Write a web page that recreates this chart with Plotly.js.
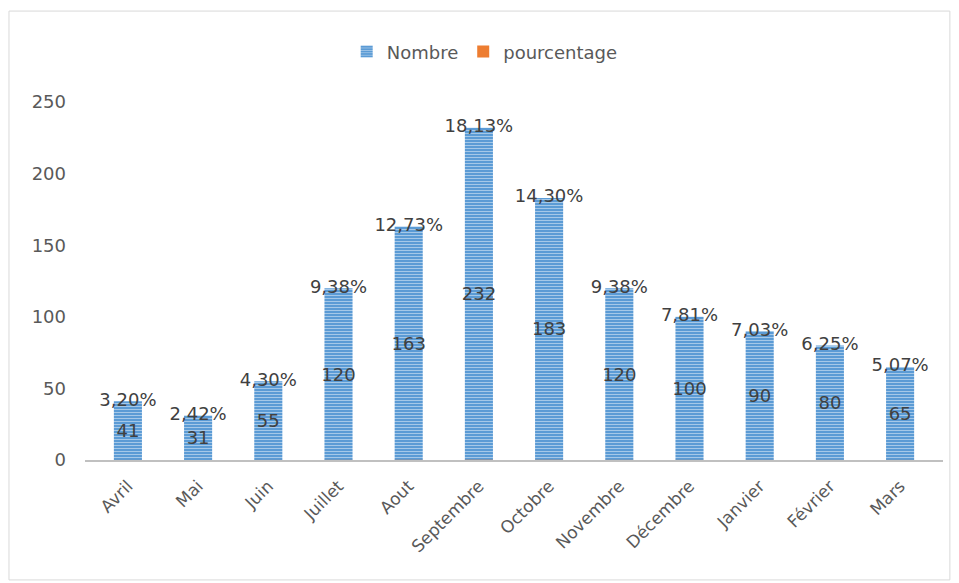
<!DOCTYPE html>
<html>
<head>
<meta charset="utf-8">
<script src="https://cdn.plot.ly/plotly-3.0.1.min.js"></script>
<style>
  html, body { margin: 0; padding: 0; background: #ffffff; }
  #chart { width: 959px; height: 583px; }
</style>
</head>
<body>
<div id="chart"></div>
<script>
// Monthly counts and their share of the yearly total
const months = ['Avril', 'Mai', 'Juin', 'Juillet', 'Aout', 'Septembre', 'Octobre',
                'Novembre', 'Décembre', 'Janvier', 'Février', 'Mars'];
const nombre = [41, 31, 55, 120, 163, 232, 183, 120, 100, 90, 80, 65];
const pourcentage = [3.20, 2.42, 4.30, 9.38, 12.73, 18.13, 14.30, 9.38, 7.81, 7.03, 6.25, 5.07];
const yTicks = [0, 50, 100, 150, 200, 250];

const fmtPct = v => v.toFixed(2).replace('.', ',') + '%';
const textGray = '#595959';
const labelGray = '#404040';
const fontFam = '"DejaVu Sans", sans-serif';

const traces = [
  {
    type: 'bar',
    name: 'Nombre',
    x: months,
    y: nombre,
    width: 0.4,
    marker: {
      color: '#5b9bd5',
      line: { width: 0 },
      pattern: { shape: '-', fgcolor: '#ffffff', fillmode: 'overlay', size: 3, solidity: 0.3 }
    },
    text: nombre.map(String),
    textposition: 'inside',
    insidetextanchor: 'middle',
    constraintext: 'none',
    textangle: 0,
    textfont: { family: fontFam, size: 18, color: labelGray },
    hoverinfo: 'x+y'
  },
  {
    // share of total, expressed as a fraction: too small to show against the count axis
    type: 'bar',
    name: 'pourcentage',
    x: months,
    y: pourcentage.map(v => v / 100),
    width: 0.4,
    marker: { color: '#ed7d31' },
    hoverinfo: 'skip'
  },
  {
    // percentage labels sitting on top of each count bar
    type: 'scatter',
    mode: 'text',
    x: months,
    y: nombre,
    text: pourcentage.map(fmtPct),
    textposition: 'middle center',
    textfont: { family: fontFam, size: 18, color: labelGray },
    showlegend: false,
    hoverinfo: 'skip'
  }
];

const layout = {
  width: 959,
  height: 583,
  margin: { l: 85, r: 16, t: 102, b: 123 },
  paper_bgcolor: '#ffffff',
  plot_bgcolor: '#ffffff',
  font: { family: fontFam, color: textGray, size: 18 },
  barmode: 'overlay',
  showlegend: true,
  legend: {
    orientation: 'h',
    x: 0.305, xanchor: 'left',
    y: 1.14, yanchor: 'middle',
    font: { family: fontFam, size: 18, color: textGray },
    itemwidth: 30,
    traceorder: 'normal'
  },
  xaxis: {
    type: 'category',
    showgrid: false,
    zeroline: false,
    showline: true,
    linecolor: '#c0c0c0',
    linewidth: 1.5,
    ticks: '',
    tickangle: -45,
    ticklabelstandoff: 8,
    tickfont: { family: fontFam, size: 17, color: textGray },
    fixedrange: true
  },
  yaxis: {
    range: [0, 250],
    tickvals: yTicks,
    ticktext: yTicks.map(String),
    showgrid: false,
    zeroline: false,
    showline: false,
    ticks: '',
    ticklabelstandoff: 18,
    tickfont: { family: fontFam, size: 18, color: textGray },
    fixedrange: true
  },
  shapes: [
    {
      type: 'rect',
      xref: 'paper', yref: 'paper',
      x0: -0.0886, x1: 1.008,
      y0: -0.335, y1: 1.254,
      line: { color: '#d9d9d9', width: 1 },
      fillcolor: 'rgba(0,0,0,0)',
      layer: 'below'
    }
  ]
};

Plotly.newPlot('chart', traces, layout, { displayModeBar: false, staticPlot: true });
</script>
</body>
</html>
